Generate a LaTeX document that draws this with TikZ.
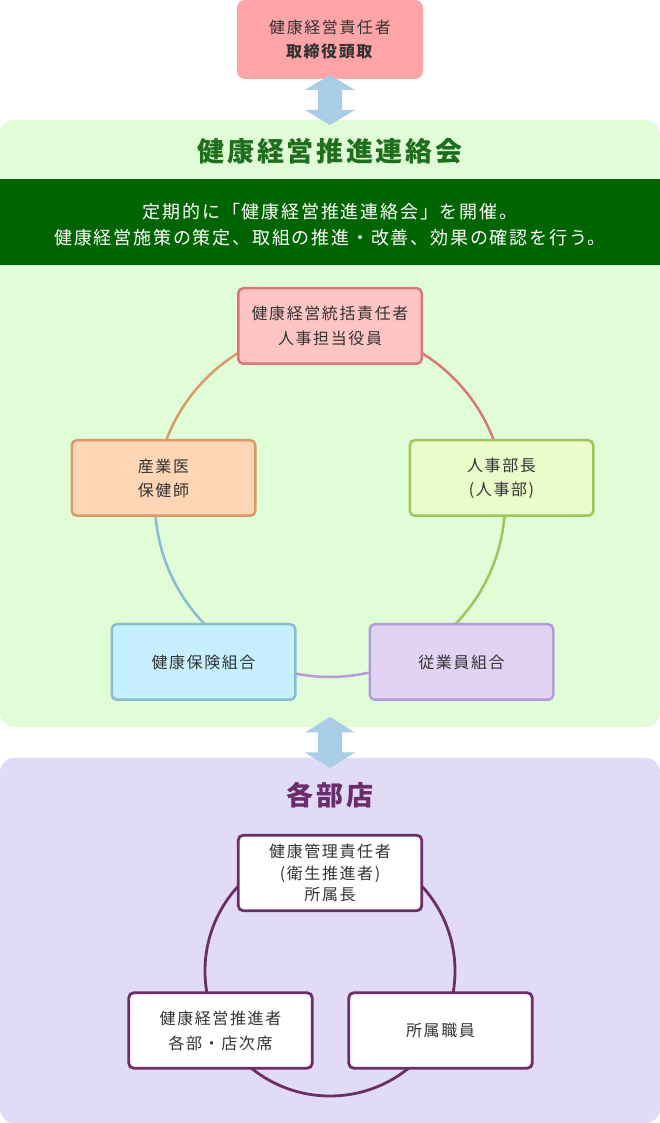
\documentclass[tikz,border=0pt]{standalone}
\usepackage{fontspec}
\setmainfont{Noto Sans CJK JP}[LetterSpace=10]
\usetikzlibrary{calc}
\definecolor{txt}{HTML}{333333}
\definecolor{rootfill}{HTML}{FFA4A7}
\definecolor{arrowc}{HTML}{A8CDE5}
\definecolor{greenbg}{HTML}{E0FDD8}
\definecolor{greentitle}{HTML}{1E6E1E}
\definecolor{band}{HTML}{006400}
\definecolor{topfill}{HTML}{FFC5C5}
\definecolor{topdraw}{HTML}{D97777}
\definecolor{leftfill}{HTML}{FFD6B6}
\definecolor{leftdraw}{HTML}{D99A6A}
\definecolor{rightfill}{HTML}{E9FCC9}
\definecolor{rightdraw}{HTML}{9DC55B}
\definecolor{blfill}{HTML}{C6F0FF}
\definecolor{bldraw}{HTML}{88BCD5}
\definecolor{brfill}{HTML}{E2D3F4}
\definecolor{brdraw}{HTML}{B39DD8}
\definecolor{purplebg}{HTML}{E2DBF8}
\definecolor{purpletitle}{HTML}{6A2C6C}
\definecolor{pdraw}{HTML}{6A2F67}
\begin{document}
\begin{tikzpicture}[x=1pt,y=1pt,
  cbox/.style={draw, line width=2.5pt, rounded corners=5pt, minimum width=183.5pt,
    minimum height=75.5pt, align=center, inner sep=0pt, text=txt,
    font=\fontsize{16}{25}\selectfont},
  wbox/.style={cbox, fill=white, draw=pdraw, line width=2.8pt},
  panel/.style={rounded corners=14pt, minimum width=660pt, inner sep=0pt},
  ring/.style={line width=2.5pt},
  title/.style={font=\bfseries\fontsize{27}{30}\selectfont, inner sep=0pt},
  arrowfill/.style={fill=arrowc}]
\useasboundingbox (0,0) rectangle (660,1123);

% panels
\node[panel, fill=greenbg, minimum height=607pt] (gpanel) at (330,699.5) {};
\node[panel, fill=purplebg, minimum height=365pt] (ppanel) at (330,182.5) {};

% root box
\node[fill=rootfill, rounded corners=8pt, minimum width=186pt, minimum height=79pt,
  inner sep=0pt, align=center, text=txt, font=\fontsize{16}{24}\selectfont]
  (root) at (330,1083.5) {健康経営責任者\\\textbf{取締役頭取}};

% double arrows
\coordinate (a1) at (330,1023);
\fill[arrowfill] (a1) ++(0,25) -- ++(25,-15) -- ++(-13,0) -- ++(0,-20) -- ++(13,0)
  -- ++(-25,-15) -- ++(-25,15) -- ++(13,0) -- ++(0,20) -- ++(-13,0) -- cycle;
\coordinate (a2) at (330,380.5);
\fill[arrowfill] (a2) ++(0,25.5) -- ++(25,-15.5) -- ++(-13,0) -- ++(0,-20) -- ++(13,0)
  -- ++(-25,-15.5) -- ++(-25,15.5) -- ++(13,0) -- ++(0,20) -- ++(-13,0) -- cycle;

% green section
\node[title, text=greentitle] (gtitle) at (330,972) {健康経営推進連絡会};
\node[fill=band, minimum width=660pt, minimum height=86pt, inner sep=0pt] (band) at (330,901) {};
\node[text=white, align=center, inner sep=0pt, font=\fontsize{18}{26}\selectfont]
  (bandtext) at ($(band.center)+(0,-3)$)
  {定期的に「健康経営推進連絡会」を開催。\\健康経営施策の策定、取組の推進・改善、効果の確認を行う。};

\coordinate (c1) at (330,621);
\draw[ring, topdraw]   (c1) ++(90:175pt)  arc[start angle=90,  end angle=8,    radius=175pt];
\draw[ring, rightdraw] (c1) ++(8:175pt)   arc[start angle=8,   end angle=-51,  radius=175pt];
\draw[ring, brdraw]    (c1) ++(-51:175pt) arc[start angle=-51, end angle=-129, radius=175pt];
\draw[ring, bldraw]    (c1) ++(-129:175pt) arc[start angle=-129, end angle=-188, radius=175pt];
\draw[ring, leftdraw]  (c1) ++(172:175pt) arc[start angle=172, end angle=90,   radius=175pt];

\node[cbox, fill=topfill, draw=topdraw] (top) at (330,797) {健康経営統括責任者\\人事担当役員};
\node[cbox, fill=leftfill, draw=leftdraw, font=\fontsize{16}{24}\selectfont] (left) at (163.5,645) {産業医\\保健師};
\node[cbox, fill=rightfill, draw=rightdraw, font=\fontsize{16}{24}\selectfont] (right) at (501.5,645) {人事部長\\(人事部)};
\node[cbox, fill=blfill, draw=bldraw] (bl) at (203.5,461) {健康保険組合};
\node[cbox, fill=brfill, draw=brdraw] (br) at (461.5,461) {従業員組合};

% purple section
\node[title, text=purpletitle] (ptitle) at (330,328) {各部店};
\coordinate (c2) at (330,152);
\draw[ring, pdraw, line width=2.8pt] (c2) circle[radius=125pt];
\node[wbox, font=\fontsize{16}{21.5}\selectfont] (ltop) at (330,250) {健康管理責任者\\(衛生推進者)\\所属長};
\node[wbox] (lbl) at (220.5,92.5) {健康経営推進者\\各部・店次席};
\node[wbox] (lbr) at (440.5,92.5) {所属職員};
\end{tikzpicture}
\end{document}
